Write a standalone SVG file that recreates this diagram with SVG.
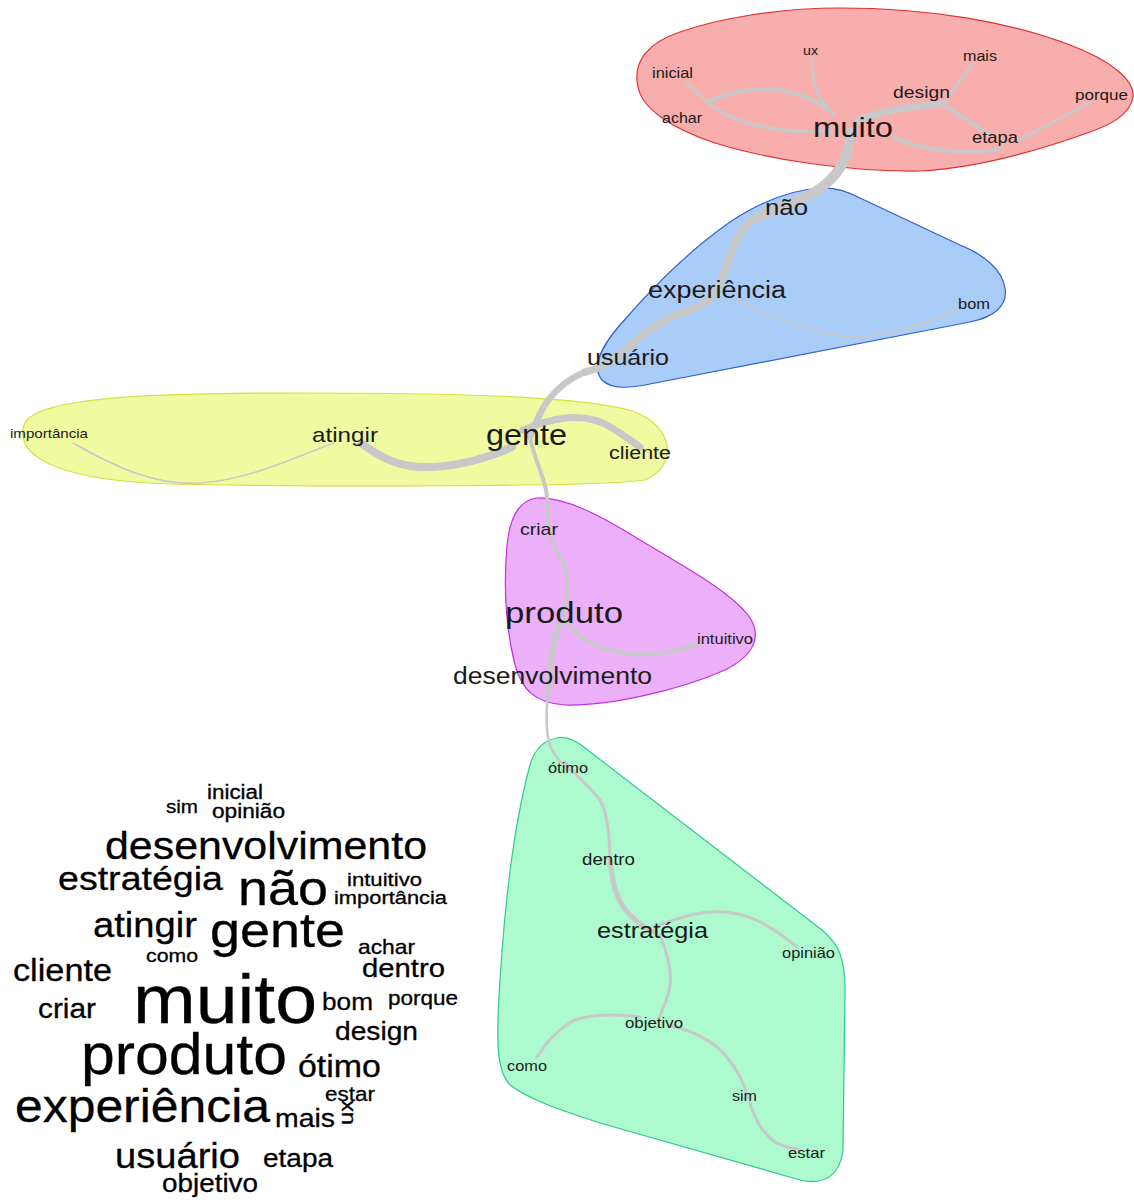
<svg xmlns="http://www.w3.org/2000/svg" width="1134" height="1203" viewBox="0 0 1134 1203">
  <style>
    .hull { stroke-width: 1.2; }
    .edge { fill: none; stroke: #c8c8c8; stroke-linecap: round; stroke-linejoin: round; }
    .lbl { font-family: "Liberation Sans", Arial, sans-serif; fill: #1a1a1a; }
    .wc text { font-family: "Liberation Sans", Arial, sans-serif; fill: #000; stroke: #000; stroke-width: 0.3; }
  </style>
  <rect width="1134" height="1203" fill="#ffffff"/>

  <!-- community hulls -->
  <g id="hulls">
    <path id="hull-red" class="hull" fill="#f9aeae" stroke="#e0302f" d="M 638,87 C 632,60 650,42 680,32 C 720,18 780,8 840,8 C 930,8 1010,22 1070,45 C 1110,60 1135,80 1133,97 C 1130,115 1110,125 1090,132 C 1040,150 980,168 920,171 C 850,172 770,160 715,143 C 670,128 642,108 638,87 Z"/>
    <path id="hull-blue" class="hull" fill="#aaccf8" stroke="#3060d0" d="M 820,188 C 790,190 760,202 730,222 C 690,250 650,290 620,325 C 600,348 592,368 602,380 C 612,390 630,388 650,384 L 970,322 C 995,317 1008,305 1005,288 C 1002,270 985,255 960,245 L 860,198 C 845,190 832,187 820,188 Z"/>
    <path id="hull-yellow" class="hull" fill="#f0faa0" stroke="#d5e040" d="M 24,425 C 33,398 140,393 300,393 C 450,393 590,396 635,412 C 672,426 680,465 645,480 C 600,487 320,487 170,484 C 70,481 13,460 24,425 Z"/>
    <path id="hull-purple" class="hull" fill="#ecb0fa" stroke="#c030e0" d="M 537,498 C 520,500 510,515 507,545 C 504,580 505,625 515,665 C 522,690 535,703 565,705 C 610,706 680,690 725,670 C 755,655 763,635 748,615 C 730,592 690,570 640,540 C 600,515 565,497 537,498 Z"/>
    <path id="hull-green" class="hull" fill="#acfacd" stroke="#30c890" d="M 557,738 C 545,740 535,748 530,765 C 515,820 505,900 500,980 C 496,1040 496,1070 510,1085 C 530,1100 560,1110 600,1123 L 800,1180 C 825,1186 840,1175 843,1150 L 845,990 C 845,960 840,945 822,930 L 585,748 C 575,740 565,736 557,738 Z"/>
  </g>

  <!-- connectors -->
  <g id="edges">
    <path class="edge" stroke-width="3" d="M 686,82 L 707,102"/>
    <path class="edge" stroke-width="4" d="M 707,102 C 730,92 760,85 790,92 C 810,97 822,105 834,114"/>
    <path class="edge" stroke-width="3.5" d="M 707,102 C 725,118 760,130 800,131 L 832,131"/>
    <path class="edge" stroke-width="3" d="M 812,58 C 812,75 814,90 822,100 C 826,106 830,110 834,114"/>
    <path class="edge" stroke-width="7" d="M 858,120 C 880,112 905,106 943,104"/>
    <path class="edge" stroke-width="3" d="M 943,104 C 952,92 962,78 972,64"/>
    <path class="edge" stroke-width="4" d="M 943,104 C 955,112 970,122 990,135"/>
    <path class="edge" stroke-width="4" d="M 893,137 C 910,146 940,152 970,152 C 985,152 995,150 1000,148"/>
    <path class="edge" stroke-width="3" d="M 1018,140 C 1040,130 1065,115 1090,103"/>
    <path class="edge" stroke-width="10" d="M 850,132 C 850,160 835,180 813,193 C 800,200 775,210 760,216"/>
    <path class="edge" stroke-width="8" d="M 760,216 C 745,223 738,235 732,250 C 725,268 722,285 712,297"/>
    <path class="edge" stroke-width="7.5" d="M 712,297 C 700,308 690,310 680,313 C 660,322 645,332 633,343 C 620,355 605,368 585,372"/>
    <path class="edge" stroke-width="6.5" d="M 585,372 C 565,380 550,395 542,410 C 536,422 532,430 530,437"/>
    <path class="edge" stroke-width="2" stroke="#cfcfcf" d="M 737,300 C 760,312 800,330 847,337 C 880,338 915,328 957,310"/>
    <path class="edge" stroke-width="8" d="M 512,447 C 480,462 440,470 410,466 C 390,463 375,453 362,444"/>
    <path class="edge" stroke-width="7" d="M 523,430 C 535,425 550,420 565,418 C 585,416 600,420 612,428 C 622,434 630,440 640,447"/>
    <path class="edge" stroke-width="1.5" stroke="#d0d0d0" d="M 334,443 C 300,455 250,480 200,483 C 160,486 120,470 73,443"/>
    <path class="edge" stroke-width="4" d="M 530,437 C 533,455 543,475 546,490 C 548,500 548,510 548,520"/>
    <path class="edge" stroke-width="4" d="M 548,520 C 550,540 556,550 563,563 C 569,578 569,600 563,615"/>
    <path class="edge" stroke-width="4" d="M 563,618 C 575,635 595,650 630,654 C 660,656 680,650 700,643"/>
    <path class="edge" stroke-width="6" d="M 560,622 C 553,640 550,660 549,690"/>
    <path class="edge" stroke-width="2.5" d="M 548,690 C 546,715 545,735 552,750 C 557,758 562,764 568,770"/>
    <path class="edge" stroke-width="3" d="M 565,762 C 575,775 590,787 600,800 C 608,815 609,835 610,855"/>
    <path class="edge" stroke-width="5" d="M 610,858 C 612,880 615,900 630,915 C 640,925 648,930 655,932"/>
    <path class="edge" stroke-width="3" d="M 660,925 C 680,917 705,910 725,912 C 750,914 770,925 797,947"/>
    <path class="edge" stroke-width="3" d="M 660,935 C 666,950 672,970 670,985 C 668,1000 662,1010 658,1020"/>
    <path class="edge" stroke-width="3" d="M 640,1017 C 620,1015 595,1013 575,1020 C 555,1030 545,1045 537,1057"/>
    <path class="edge" stroke-width="3" d="M 668,1025 C 690,1030 712,1040 725,1055 C 738,1070 745,1085 748,1098"/>
    <path class="edge" stroke-width="3" d="M 750,1103 C 755,1120 762,1133 775,1142 C 785,1148 795,1148 800,1150"/>
  </g>

  <!-- graph nodes -->
  <g id="node-inicial"><text class="lbl" x="652" y="78" font-size="14" textLength="41" lengthAdjust="spacingAndGlyphs">inicial</text></g>
  <g id="node-ux"><text class="lbl" x="803" y="55" font-size="13" textLength="15" lengthAdjust="spacingAndGlyphs">ux</text></g>
  <g id="node-mais"><text class="lbl" x="963" y="61" font-size="14" textLength="34" lengthAdjust="spacingAndGlyphs">mais</text></g>
  <g id="node-design"><text class="lbl" x="893" y="98" font-size="17" textLength="57" lengthAdjust="spacingAndGlyphs">design</text></g>
  <g id="node-porque"><text class="lbl" x="1075" y="100" font-size="15" textLength="53" lengthAdjust="spacingAndGlyphs">porque</text></g>
  <g id="node-achar"><text class="lbl" x="662" y="123" font-size="14" textLength="40" lengthAdjust="spacingAndGlyphs">achar</text></g>
  <g id="node-muito"><text class="lbl" x="813" y="137" font-size="28.5" textLength="80" lengthAdjust="spacingAndGlyphs">muito</text></g>
  <g id="node-etapa"><text class="lbl" x="972" y="143" font-size="16" textLength="46" lengthAdjust="spacingAndGlyphs">etapa</text></g>
  <g id="node-nao"><text class="lbl" x="765" y="215" font-size="22.5" textLength="43" lengthAdjust="spacingAndGlyphs">não</text></g>
  <g id="node-experiencia"><text class="lbl" x="648" y="298" font-size="23.5" textLength="138" lengthAdjust="spacingAndGlyphs">experiência</text></g>
  <g id="node-bom"><text class="lbl" x="958" y="309" font-size="14.3" textLength="32" lengthAdjust="spacingAndGlyphs">bom</text></g>
  <g id="node-usuario"><text class="lbl" x="587" y="365" font-size="21.7" textLength="82" lengthAdjust="spacingAndGlyphs">usuário</text></g>
  <g id="node-importancia"><text class="lbl" x="10" y="438" font-size="13.3" textLength="78" lengthAdjust="spacingAndGlyphs">importância</text></g>
  <g id="node-atingir"><text class="lbl" x="312" y="442" font-size="21" textLength="66" lengthAdjust="spacingAndGlyphs">atingir</text></g>
  <g id="node-gente"><text class="lbl" x="486" y="445" font-size="29" textLength="81" lengthAdjust="spacingAndGlyphs">gente</text></g>
  <g id="node-cliente"><text class="lbl" x="609" y="459" font-size="18.7" textLength="62" lengthAdjust="spacingAndGlyphs">cliente</text></g>
  <g id="node-criar"><text class="lbl" x="520" y="535" font-size="17" textLength="38" lengthAdjust="spacingAndGlyphs">criar</text></g>
  <g id="node-produto"><text class="lbl" x="505" y="623" font-size="30" textLength="118" lengthAdjust="spacingAndGlyphs">produto</text></g>
  <g id="node-intuitivo"><text class="lbl" x="697" y="644" font-size="14.4" textLength="56" lengthAdjust="spacingAndGlyphs">intuitivo</text></g>
  <g id="node-desenvolvimento"><text class="lbl" x="453" y="684" font-size="23" textLength="199" lengthAdjust="spacingAndGlyphs">desenvolvimento</text></g>
  <g id="node-otimo"><text class="lbl" x="548" y="773" font-size="14.2" textLength="40" lengthAdjust="spacingAndGlyphs">ótimo</text></g>
  <g id="node-dentro"><text class="lbl" x="582" y="865" font-size="16.3" textLength="53" lengthAdjust="spacingAndGlyphs">dentro</text></g>
  <g id="node-estrategia"><text class="lbl" x="597" y="938" font-size="22" textLength="111" lengthAdjust="spacingAndGlyphs">estratégia</text></g>
  <g id="node-opiniao"><text class="lbl" x="782" y="958" font-size="14.3" textLength="53" lengthAdjust="spacingAndGlyphs">opinião</text></g>
  <g id="node-objetivo"><text class="lbl" x="625" y="1028" font-size="14.6" textLength="58" lengthAdjust="spacingAndGlyphs">objetivo</text></g>
  <g id="node-como"><text class="lbl" x="507" y="1071" font-size="14.2" textLength="40" lengthAdjust="spacingAndGlyphs">como</text></g>
  <g id="node-sim"><text class="lbl" x="732" y="1101" font-size="14" textLength="25" lengthAdjust="spacingAndGlyphs">sim</text></g>
  <g id="node-estar"><text class="lbl" x="788" y="1158" font-size="14.5" textLength="37" lengthAdjust="spacingAndGlyphs">estar</text></g>

  <!-- word cloud -->
  <g id="wordcloud" class="wc">
    <text x="166" y="813" font-size="18.7" textLength="32" lengthAdjust="spacingAndGlyphs">sim</text>
    <text x="207" y="799" font-size="19.5" textLength="56" lengthAdjust="spacingAndGlyphs">inicial</text>
    <text x="212" y="818" font-size="19.5" textLength="73" lengthAdjust="spacingAndGlyphs">opinião</text>
    <text x="105" y="859" font-size="39" textLength="322" lengthAdjust="spacingAndGlyphs">desenvolvimento</text>
    <text x="58" y="890" font-size="34" textLength="165" lengthAdjust="spacingAndGlyphs">estratégia</text>
    <text x="238" y="905" font-size="49" textLength="90" lengthAdjust="spacingAndGlyphs">não</text>
    <text x="347" y="886" font-size="19" textLength="75" lengthAdjust="spacingAndGlyphs">intuitivo</text>
    <text x="334" y="904" font-size="19" textLength="113" lengthAdjust="spacingAndGlyphs">importância</text>
    <text x="93" y="937" font-size="34.7" textLength="104" lengthAdjust="spacingAndGlyphs">atingir</text>
    <text x="210" y="947" font-size="48" textLength="135" lengthAdjust="spacingAndGlyphs">gente</text>
    <text x="146" y="962" font-size="18.5" textLength="52" lengthAdjust="spacingAndGlyphs">como</text>
    <text x="358" y="954" font-size="20.7" textLength="57" lengthAdjust="spacingAndGlyphs">achar</text>
    <text x="13" y="981" font-size="31" textLength="99" lengthAdjust="spacingAndGlyphs">cliente</text>
    <text x="362" y="977" font-size="26.6" textLength="83" lengthAdjust="spacingAndGlyphs">dentro</text>
    <text x="133" y="1023" font-size="68" textLength="184" lengthAdjust="spacingAndGlyphs">muito</text>
    <text x="322" y="1010" font-size="24.8" textLength="51" lengthAdjust="spacingAndGlyphs">bom</text>
    <text x="388" y="1005" font-size="20.4" textLength="70" lengthAdjust="spacingAndGlyphs">porque</text>
    <text x="38" y="1018" font-size="27.6" textLength="58" lengthAdjust="spacingAndGlyphs">criar</text>
    <text x="335" y="1040" font-size="26" textLength="83" lengthAdjust="spacingAndGlyphs">design</text>
    <text x="81" y="1074" font-size="58" textLength="206" lengthAdjust="spacingAndGlyphs">produto</text>
    <text x="298" y="1077" font-size="30.5" textLength="83" lengthAdjust="spacingAndGlyphs">ótimo</text>
    <text x="325" y="1101" font-size="20.5" textLength="50" lengthAdjust="spacingAndGlyphs">estar</text>
    <text x="15" y="1122" font-size="45.4" textLength="255" lengthAdjust="spacingAndGlyphs">experiência</text>
    <text x="275" y="1127" font-size="25.8" textLength="60" lengthAdjust="spacingAndGlyphs">mais</text>
    <text transform="translate(353,1125) rotate(-90)" x="0" y="0" font-size="21" textLength="25" lengthAdjust="spacingAndGlyphs">ux</text>
    <text x="115" y="1168" font-size="34.7" textLength="125" lengthAdjust="spacingAndGlyphs">usuário</text>
    <text x="263" y="1167" font-size="25.4" textLength="70" lengthAdjust="spacingAndGlyphs">etapa</text>
    <text x="162" y="1192" font-size="25.3" textLength="96" lengthAdjust="spacingAndGlyphs">objetivo</text>
  </g>
</svg>
